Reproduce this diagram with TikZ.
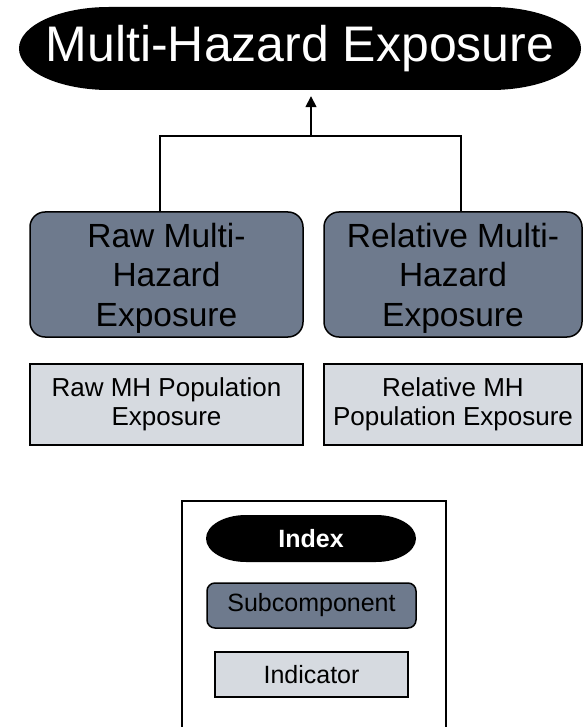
\documentclass[tikz,border=0pt]{standalone}
\usepackage{fontspec}
\setmainfont{Liberation Sans}
\usetikzlibrary{arrows.meta}
\definecolor{subfill}{RGB}{110,122,141}
\definecolor{indfill}{RGB}{214,218,224}
\begin{document}
\begin{tikzpicture}[x=1pt,y=-1pt,
  subbox/.style={draw=black, line width=1.5pt, fill=subfill, rounded corners=15pt, align=center,
    font=\fontsize{33.5}{39.5}\selectfont, inner sep=0pt, text depth=-3pt},
  indbox/.style={draw=black, line width=1.3pt, fill=indfill, align=center,
    font=\fontsize{26}{29}\selectfont, inner sep=0pt},
  legtext/.style={font=\fontsize{25}{30}\selectfont, inner sep=0pt, align=center},
  conn/.style={line width=1.6pt, draw=black}]
\useasboundingbox (0,0) rectangle (583,727);

% title shape (elliptical ends)
\fill[black] (109,7) -- (491,7) arc[start angle=90, end angle=-90, x radius=90pt, y radius=41.5pt]
  -- (109,90) arc[start angle=270, end angle=90, x radius=90pt, y radius=41.5pt] -- cycle;
\node[text=white, font=\fontsize{50}{60}\selectfont, minimum width=562pt, minimum height=83pt, inner sep=0pt]
  (title) at (300,48.5) {Multi-Hazard Exposure};

% subcomponents
\node[subbox, minimum width=273pt, minimum height=125pt] (subL) at (166.5,274.5)
  {Raw Multi-\\Hazard\\Exposure};
\node[subbox, minimum width=258pt, minimum height=125pt] (subR) at (453,274.5)
  {Relative Multi-\\Hazard\\Exposure};

% indicators
\node[indbox, minimum width=273pt, minimum height=81pt] (indL) at (166.5,404.5)
  {Raw MH Population\\Exposure};
\node[indbox, minimum width=258pt, minimum height=81pt] (indR) at (453,404.5)
  {Relative MH\\Population Exposure};

% connectors
\coordinate (j) at (311,136);
\draw[conn] ([xshift=-6.5pt]subL.north) |- (j) -| ([xshift=8pt]subR.north);
\draw[conn, -{Triangle[length=11pt,width=11pt]}, shorten >=6pt] (j) -- (title.south -| j);

% legend frame
\draw[line width=2.5pt] (182,727) -- (182,501) -- (446,501) -- (446,727);

% legend: index
\fill[black] (246,515) -- (376,515) arc[start angle=90, end angle=-90, x radius=40pt, y radius=23.5pt]
  -- (246,562) arc[start angle=270, end angle=90, x radius=40pt, y radius=23.5pt] -- cycle;
\node[legtext, text=white, font=\fontsize{25}{30}\selectfont\bfseries, minimum width=210pt, minimum height=47pt]
  (lgIndex) at (311,538.5) {Index};
\node[legtext, draw=black, line width=1.5pt, fill=subfill, rounded corners=8pt,
  minimum width=209pt, minimum height=45pt] (lgSub) at (311.5,605.5) {Subcomponent};
\node[legtext, draw=black, line width=1.3pt, fill=indfill,
  minimum width=193pt, minimum height=45pt] (lgInd) at (311.5,674.5) {Indicator};
\end{tikzpicture}
\end{document}
